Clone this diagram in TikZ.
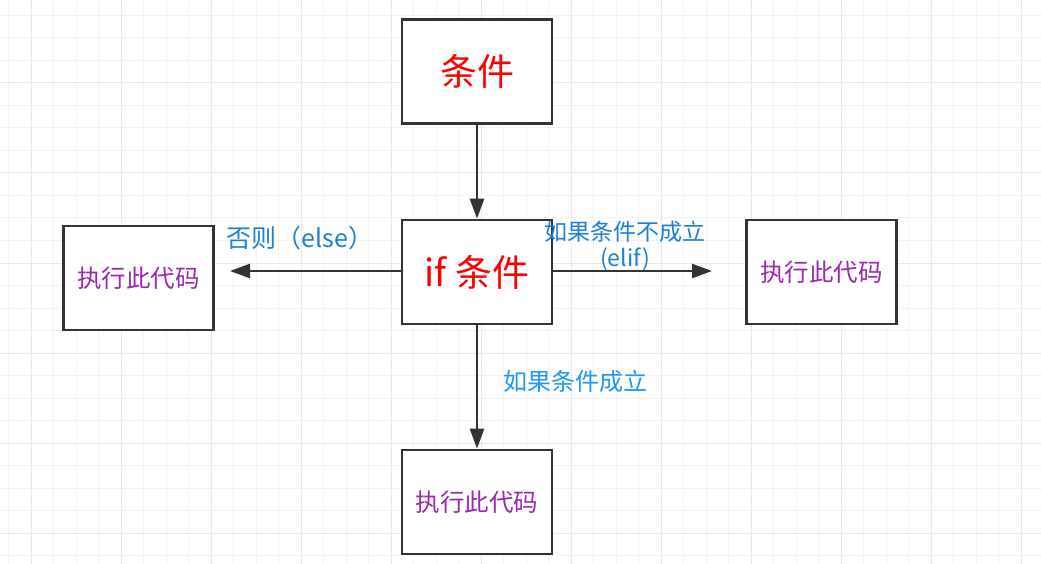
\documentclass[tikz,border=0pt]{standalone}
\usepackage{fontspec}
\setmainfont{Noto Sans CJK SC}
\usetikzlibrary{arrows.meta}
\definecolor{gridminor}{HTML}{F3F3F3}
\definecolor{gridmajor}{HTML}{E8E8E8}
\definecolor{boxline}{HTML}{333333}
\definecolor{codepurple}{HTML}{9C27B0}
\definecolor{labelblue}{HTML}{1F7FD6}
\definecolor{labellight}{HTML}{2196F3}
\begin{document}
\begin{tikzpicture}[x=1pt,y=-1pt,
  box/.style={draw=boxline,line width=2.6pt,fill=white,inner sep=0pt,
    minimum width=150pt,minimum height=104pt},
  bigtext/.style={text=red,font=\fontsize{37}{40}\selectfont},
  codetext/.style={text=codepurple,font=\fontsize{24.5}{27}\selectfont},
  conn/.style={draw=boxline,line width=2.6pt,-{Triangle[length=20pt,width=14pt]}},
  lbl/.style={text=labelblue,font=\fontsize{23}{26}\selectfont,inner sep=0pt},
  lblelse/.style={text=labelblue,font=\fontsize{25}{28}\selectfont,inner sep=0pt},
  lbllight/.style={text=labellight,font=\fontsize{24}{27}\selectfont,inner sep=0pt}]
\useasboundingbox (0,0) rectangle (1041,564);
\fill[white] (0,0) rectangle (1041,564);
% grid
\foreach \i in {0,...,46} {
  \pgfmathsetmacro\xx{8.5+22.5*\i}
  \draw[gridminor,line width=1pt] (\xx,0) -- (\xx,564);
}
\foreach \i in {0,...,24} {
  \pgfmathsetmacro\yy{15.5+22.5*\i}
  \draw[gridminor,line width=1pt] (0,\yy) -- (1041,\yy);
}
\foreach \i in {0,...,11} {
  \pgfmathsetmacro\xx{31+90*\i}
  \draw[gridmajor,line width=1pt] (\xx,0) -- (\xx,564);
}
\foreach \i in {0,...,6} {
  \pgfmathsetmacro\yy{83+90*\i}
  \draw[gridmajor,line width=1pt] (0,\yy) -- (1041,\yy);
}
% nodes
\node[box,bigtext] (cond) at (477,71.5) {条件};
\node[box,bigtext] (ifc) at (477,272) {if 条件};
\node[box,codetext] (left) at (138.5,278) {执行此代码};
\node[box,codetext] (right) at (821.5,272) {执行此代码};
\node[box,codetext] (bottom) at (477,502) {执行此代码};
\coordinate (lefttip) at (230,271);
\coordinate (righttip) at (712,271);
% connectors
\draw[conn] (cond) -- (ifc);
\draw[conn] (ifc.west |- lefttip) -- (lefttip);
\draw[conn] (ifc.east |- righttip) -- (righttip);
\draw[conn] (ifc) -- (bottom);
% labels
\node[lblelse] (elselbl) at (300,238) {否则（else）};
\node[lbl] (eliflbl1) at (625,232) {如果条件不成立};
\node[lbl] (eliflbl2) at (625,259) {(elif)};
\node[lbllight] (iflbl) at (575,381) {如果条件成立};
\end{tikzpicture}
\end{document}
